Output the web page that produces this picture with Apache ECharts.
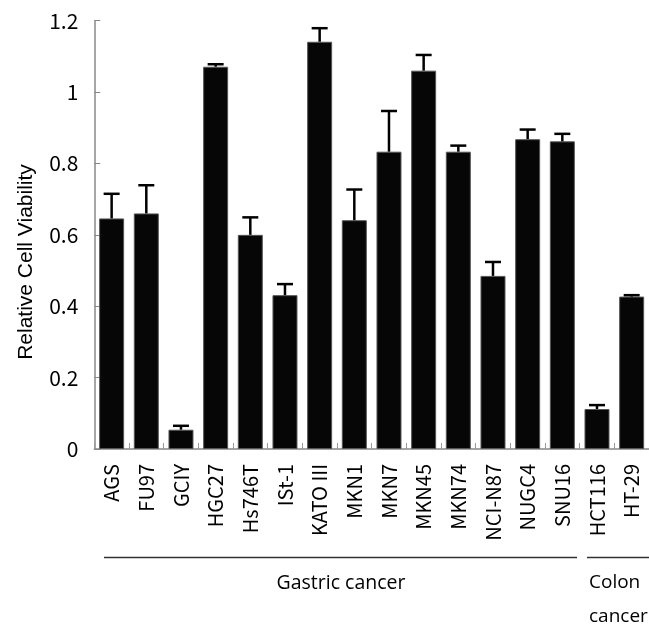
<!DOCTYPE html>
<html>
<head>
<meta charset="utf-8">
<script src="https://cdn.jsdelivr.net/npm/echarts@6/dist/echarts.min.js"></script>
<style>html,body{margin:0;padding:0;background:#fff;}#c{width:649px;height:625px;}</style>
</head>
<body>
<div id="c"></div>
<script>
const categories = ["AGS","FU97","GCIY","HGC27","Hs746T","ISt-1","KATO III","MKN1","MKN7","MKN45","MKN74","NCI-N87","NUGC4","SNU16","HCT116","HT-29"];
const viability = [0.646,0.660,0.054,1.071,0.600,0.431,1.141,0.641,0.833,1.060,0.833,0.485,0.868,0.862,0.112,0.427];
const upperError = [0.715,0.739,0.065,1.078,0.649,0.462,1.179,0.727,0.947,1.104,0.850,0.524,0.895,0.883,0.123,0.431];
const yTicks = [0,0.2,0.4,0.6,0.8,1,1.2];
const groups = ["Gastric cancer","Colon\ncancer"];

const chart = echarts.init(document.getElementById('c'), null, {renderer:'canvas'});
const errData = categories.map((c,i)=>[i, viability[i], upperError[i]]);
const labelFont = '"Liberation Sans Narrow","Noto Sans CJK JP",sans-serif';
const groupFont = '"Open Sans", Lato, sans-serif';

chart.setOption({
  animation:false,
  backgroundColor:'#fff',
  grid:{left:94.3, right:-5.3, top:20.7, bottom:176},
  xAxis:{
    type:'category', data:categories,
    axisLine:{lineStyle:{color:'#888',width:1.5}},
    axisTick:{show:true, inside:true, length:6, alignWithLabel:false, lineStyle:{color:'#999',width:1}},
    axisLabel:{rotate:90, margin:15, color:'#000', fontSize:20, fontFamily:labelFont, interval:0}
  },
  yAxis:{
    type:'value', min:yTicks[0], max:yTicks[yTicks.length-1], interval:0.2,
    axisLine:{show:true, lineStyle:{color:'#888',width:1.5}},
    axisTick:{show:true, inside:true, length:6, lineStyle:{color:'#888'}},
    splitLine:{show:false},
    axisLabel:{color:'#000', fontSize:21, margin:16, fontFamily:labelFont}
  },
  series:[
    {type:'bar', data:viability, barWidth:25,
     itemStyle:{color:'#060606', borderColor:'#555', borderWidth:1}},
    {type:'custom', data:errData, z:5,
     renderItem:function(params, api){
       const x = api.value(0);
       const base = api.coord([x, api.value(1)]);
       const top = api.coord([x, api.value(2)]);
       const hw = 8;
       return {type:'group', children:[
         {type:'line', shape:{x1:base[0], y1:base[1], x2:top[0], y2:top[1]}, style:{stroke:'#000', lineWidth:2.5}},
         {type:'line', shape:{x1:top[0]-hw, y1:top[1], x2:top[0]+hw, y2:top[1]}, style:{stroke:'#000', lineWidth:2.5}}
       ]};
     }}
  ],
  graphic:[
    {type:'text', x:26, y:262, rotation:Math.PI/2, style:{text:'Relative Cell Viability', fill:'#000', fontSize:21, fontFamily:'"Liberation Sans", Arial, sans-serif', align:'center', verticalAlign:'middle'}},
    {type:'line', shape:{x1:104, y1:557.5, x2:577, y2:557.5}, style:{stroke:'#333', lineWidth:1.5}},
    {type:'line', shape:{x1:587, y1:557.5, x2:649, y2:557.5}, style:{stroke:'#333', lineWidth:1.5}},
    {type:'text', x:341, y:583, style:{text:groups[0], fill:'#000', fontSize:19.5, fontFamily:groupFont, align:'center', verticalAlign:'middle'}},
    {type:'text', x:589, y:600, style:{text:groups[1], fill:'#000', fontSize:19, fontFamily:groupFont, align:'left', verticalAlign:'middle', lineHeight:34}}
  ]
});
</script>
</body>
</html>
